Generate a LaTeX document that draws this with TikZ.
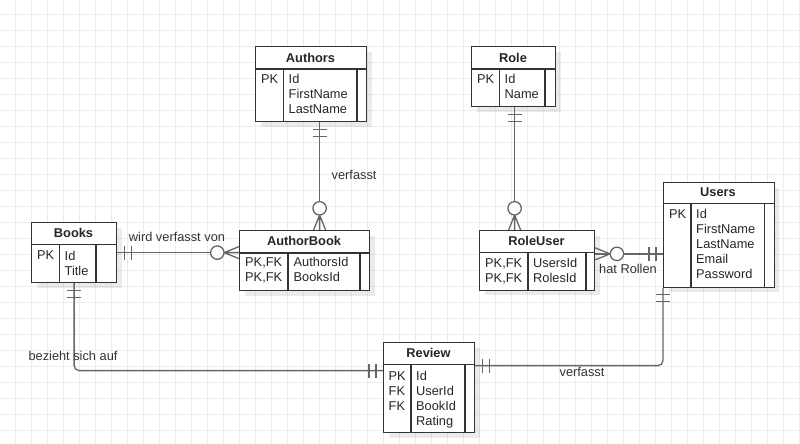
\documentclass[tikz,border=0pt]{standalone}
\usepackage{fontspec}
\setmainfont{Liberation Sans}
\usetikzlibrary{shadows,calc}

\begin{document}
\begin{tikzpicture}[x=1pt,y=-1pt]
	\tikzstyle{gridline}=[draw=black!7,line width=0.8pt];
	\tikzstyle{tbl}=[draw=black!80,line width=1.2pt,fill=white,shape=rectangle,anchor=north west,inner sep=0pt,drop shadow={shadow xshift=5pt,shadow yshift=-5pt,fill=black,opacity=0.08}];
	\tikzstyle{tline}=[draw=black!80,line width=1.2pt];
	\tikzstyle{hd}=[font=\fontsize{12.8}{15}\selectfont\bfseries,text=black!85,inner sep=0pt];
	\tikzstyle{txt}=[font=\fontsize{12.8}{15}\selectfont,text=black!85,anchor=north west,align=left,inner sep=0pt];
	\tikzstyle{lbl}=[font=\fontsize{12.8}{15}\selectfont,text=black!80,inner sep=0pt];
	\tikzstyle{conn}=[draw=black!60,line width=1.3pt];
	\tikzset{one/.pic={\draw[conn] (7,-7) -- (7,7) (14,-7) -- (14,7);},
		many/.pic={\draw[conn] (0,-6) -- (15,0) -- (0,6) (0,0) -- (15,0);
			\draw[conn,fill=white] (21.7,0) circle (6.7);}}
	\useasboundingbox (0,0) rectangle (800,444);
	\foreach \gx in {15.3,31.3,...,800} \draw[gridline] (\gx,0) -- (\gx,444);
	\foreach \gy in {14.3,30.3,...,444} \draw[gridline] (0,\gy) -- (800,\gy);
	% Authors
	\node[tbl,minimum width=111,minimum height=75] (authors) at (255,46) {};
	\node[hd] (authorsT) at (310.5,57.5) {Authors};
	\draw[tline] (255,69) -- (366,69) (283.5,69) -- (283.5,121) (357,69) -- (357,121);
	\node[txt] (authorsK) at (261,74.5) {PK};
	\node[txt] (authorsF) at (288.5,74.5) {Id\\FirstName\\LastName};
	% Role
	\node[tbl,minimum width=84,minimum height=60] (role) at (471,46) {};
	\node[hd] (roleT) at (513,57.5) {Role};
	\draw[tline] (471,69) -- (555,69) (499.5,69) -- (499.5,106) (545,69) -- (545,106);
	\node[txt] (roleK) at (477,74.5) {PK};
	\node[txt] (roleF) at (504.5,74.5) {Id\\Name};
	% Books
	\node[tbl,minimum width=85,minimum height=60] (books) at (31,222) {};
	\node[hd] (booksT) at (73.5,233) {Books};
	\draw[tline] (31,244.5) -- (116,244.5) (59.5,244.5) -- (59.5,282) (96,244.5) -- (96,282);
	\node[txt] (booksK) at (37,250.8) {PK};
	\node[txt] (booksF) at (64.5,250.8) {Id\\Title};
	% AuthorBook
	\node[tbl,minimum width=130,minimum height=60] (authorbook) at (239,230) {};
	\node[hd] (authorbookT) at (304,241) {AuthorBook};
	\draw[tline] (239,253) -- (369,253) (288,253) -- (288,290) (360,253) -- (360,290);
	\node[txt] (authorbookK) at (245,257.5) {PK,FK\\PK,FK};
	\node[txt] (authorbookF) at (293.5,257.5) {AuthorsId\\BooksId};
	% RoleUser
	\node[tbl,minimum width=115,minimum height=59.5] (roleuser) at (479,230) {};
	\node[hd] (roleuserT) at (536.5,241) {RoleUser};
	\draw[tline] (479,252.5) -- (594,252.5) (528,252.5) -- (528,289.5) (586,252.5) -- (586,289.5);
	\node[txt] (roleuserK) at (485,258.5) {PK,FK\\PK,FK};
	\node[txt] (roleuserF) at (533,258.5) {UsersId\\RolesId};
	% Users
	\node[tbl,minimum width=110.5,minimum height=104.5] (users) at (663,182) {};
	\node[hd] (usersT) at (718,192.5) {Users};
	\draw[tline] (663,203.5) -- (773.5,203.5) (691,203.5) -- (691,286.5) (764.5,203.5) -- (764.5,286.5);
	\node[txt] (usersK) at (669,209.5) {PK};
	\node[txt] (usersF) at (696,209.5) {Id\\FirstName\\LastName\\Email\\Password};
	% Review
	\node[tbl,minimum width=91,minimum height=90] (review) at (383,342) {};
	\node[hd] (reviewT) at (428.5,353) {Review};
	\draw[tline] (383,364.5) -- (474,364.5) (411,364.5) -- (411,432) (465,364.5) -- (465,432);
	\node[txt] (reviewK) at (388.5,371) {PK\\FK\\FK};
	\node[txt] (reviewF) at (416,371) {Id\\UserId\\BookId\\Rating};
	% relations
	\coordinate (a1) at ([xshift=8.5pt]authors.south);
	\draw[conn] (a1) -- (a1 |- authorbook.north);
	\pic[rotate=-90] at (a1) {one};
	\pic[rotate=90] at (a1 |- authorbook.north) {many};
	\coordinate (r1) at ([xshift=1pt]role.south);
	\draw[conn] (r1) -- (r1 |- roleuser.north);
	\pic[rotate=-90] at (r1) {one};
	\pic[rotate=90] at (r1 |- roleuser.north) {many};
	\draw[conn] (books.east) -- (books.east -| authorbook.west);
	\pic at (books.east) {one};
	\pic[rotate=180] at (books.east -| authorbook.west) {many};
	\coordinate (u1) at ([yshift=6.5pt]roleuser.east);
	\draw[conn] (u1) -- (u1 -| users.west);
	\pic at (u1) {many};
	\pic[rotate=180] at (u1 -| users.west) {one};
	\coordinate (v1) at ([yshift=17pt]review.west);
	\draw[conn,rounded corners=5pt] (books.south) |- (v1);
	\pic[rotate=-90] at (books.south) {one};
	\pic[rotate=180] at (v1) {one};
	\coordinate (v2) at ([yshift=22pt]review.east);
	\draw[conn,rounded corners=5pt] (v2) -| (users.south west);
	\pic at (v2) {one};
	\pic[rotate=-90] at (users.south west) {one};
	% labels
	\node[lbl,anchor=west] (l1) at (331.5,174.5) {verfasst};
	\node[lbl] (l2) at (177,237) {wird verfasst von};
	\node[lbl] (l3) at (628,269) {hat Rollen};
	\node[lbl] (l4) at (73,356) {bezieht sich auf};
	\node[lbl] (l5) at (582,372) {verfasst};
\end{tikzpicture}
\end{document}
